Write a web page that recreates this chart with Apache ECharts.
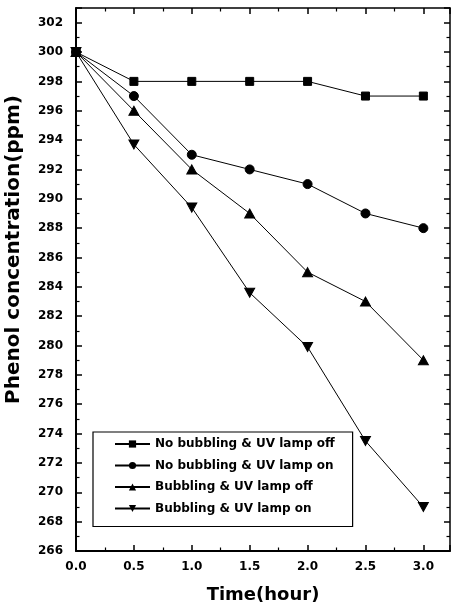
<!DOCTYPE html>
<html>
<head>
<meta charset="utf-8">
<script src="https://cdn.jsdelivr.net/npm/echarts@6/dist/echarts.min.js"></script>
<style>
  html, body { margin: 0; padding: 0; background: #fff; }
  #chart { width: 452px; height: 608px; }
</style>
</head>
<body>
<div id="chart"></div>
<script>
// Reaction time (hours)
const times = [0.0, 0.5, 1.0, 1.5, 2.0, 2.5, 3.0];

// Phenol concentration (ppm) for each run
const noBubblingLampOff = [300, 298, 298, 298, 298, 297, 297];
const noBubblingLampOn  = [300, 297, 293, 292, 291, 289, 288];
const bubblingLampOff   = [300, 296, 292, 289, 285, 283, 279];
const bubblingLampOn    = [300, 293.7, 289.4, 283.6, 279.9, 273.5, 269];

const seriesNames = [
  'No bubbling & UV lamp off',
  'No bubbling & UV lamp on',
  'Bubbling & UV lamp off',
  'Bubbling & UV lamp on'
];
const seriesValues = [noBubblingLampOff, noBubblingLampOn, bubblingLampOff, bubblingLampOn];
const seriesSymbols = ['rect', 'circle', 'triangle', 'path://M0,0 L10,0 L5,9 Z'];
const seriesSymbolSizes = [8, 9, [10, 9], [10, 9]];

const FONT = '"DejaVu Sans", sans-serif';

const chart = echarts.init(document.getElementById('chart'), null, { renderer: 'canvas' });

function axisCommon(main) {
  return {
    axisLine: { show: true, onZero: false, lineStyle: { color: '#000', width: main ? 2 : 1.5 } },
    axisTick: { show: true, inside: true, length: 6, lineStyle: { color: '#000', width: 1.5 } },
    minorTick: { show: true, splitNumber: 2, length: 3.5, lineStyle: { color: '#000', width: 1.2 } },
    splitLine: { show: false },
    minorSplitLine: { show: false }
  };
}

const option = {
  backgroundColor: '#fff',
  animation: false,
  grid: { left: 76, right: 2, top: 8, bottom: 57, containLabel: false, outerBoundsMode: 'none' },
  xAxis: [
    Object.assign(axisCommon(true), {
      type: 'value', position: 'bottom', min: 0, max: 3.23, interval: 0.5,
      name: 'Time(hour)', nameLocation: 'middle', nameGap: 35,
      nameTextStyle: { fontFamily: FONT, fontWeight: 'bold', fontSize: 18, color: '#000' },
      axisLabel: {
        show: true, margin: 10, showMaxLabel: false,
        fontFamily: FONT, fontWeight: 'bold', fontSize: 12, color: '#000',
        formatter: v => v.toFixed(1)
      }
    }),
    Object.assign(axisCommon(false), {
      type: 'value', position: 'top', min: 0, max: 3.23, interval: 0.5,
      axisLabel: { show: false }
    })
  ],
  yAxis: [
    Object.assign(axisCommon(true), {
      type: 'value', position: 'left', min: 266, max: 303, interval: 2,
      name: 'Phenol concentration(ppm)', nameLocation: 'middle', nameGap: 52, nameRotate: 90,
      nameTextStyle: { fontFamily: FONT, fontWeight: 'bold', fontSize: 20, color: '#000', padding: [0, 0, 0, 60] },
      axisLabel: {
        show: true, margin: 13, showMaxLabel: false,
        fontFamily: FONT, fontWeight: 'bold', fontSize: 12, color: '#000'
      }
    }),
    Object.assign(axisCommon(false), {
      type: 'value', position: 'right', min: 266, max: 303, interval: 2,
      axisLabel: { show: false }
    })
  ],
  legend: {
    show: true,
    orient: 'vertical',
    left: 93, top: 432,
    padding: [6, 18, 12, 21],
    itemGap: 9.5,
    itemWidth: 35, itemHeight: 9,
    backgroundColor: '#fff',
    borderColor: '#000', borderWidth: 1.2, borderRadius: 0,
    textStyle: { fontFamily: FONT, fontWeight: 'bold', fontSize: 12, color: '#000' },
    data: seriesNames
  },
  series: seriesNames.map((name, i) => ({
    name: name,
    type: 'line',
    data: times.map((t, j) => [t, seriesValues[i][j]]),
    symbol: seriesSymbols[i],
    symbolSize: seriesSymbolSizes[i],
    showAllSymbol: true,
    lineStyle: { color: '#000', width: 1 },
    itemStyle: { color: '#000', borderColor: '#000' },
    emphasis: { disabled: true },
    z: 3
  }))
};

chart.setOption(option);
</script>
</body>
</html>
